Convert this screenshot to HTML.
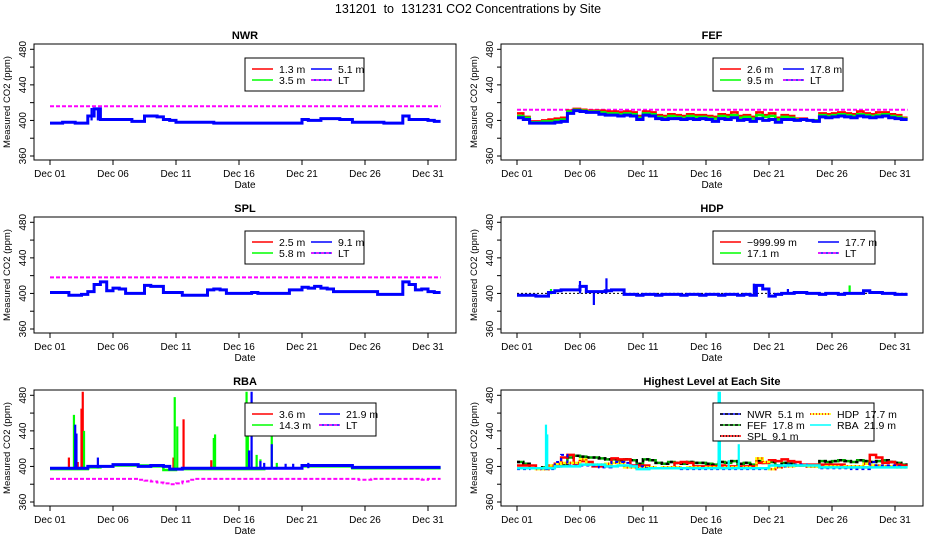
<!DOCTYPE html>
<html><head><meta charset="utf-8"><style>
html,body{margin:0;padding:0;background:#fff;}
svg{display:block;font-family:"Liberation Sans",Arial,sans-serif;}
text{white-space:pre;}
</style></head><body>
<svg id="chart" width="936" height="540" viewBox="0 0 936 540">
<text x="468" y="13" text-anchor="middle" font-size="12.5">131201  to  131231 CO2 Concentrations by Site</text>
</svg>
<script>
// ---- data (ppm), arrays sampled every 0.5 day unless noted ----
const dayLabels = ["Dec 01","Dec 06","Dec 11","Dec 16","Dec 21","Dec 26","Dec 31"];
const yTicks = [360,380,400,420,440,460,480];
const yLabels = [360,400,440,480];

const nwr51 = [397,397,398,398,397,397,405,413,401,401,401,401,401,399,399,405,405,404,401,400,398,398,398,398,398,398,397,397,397,397,397,397,397,397,397,397,397,397,397,397,401,400,400,402,402,402,401,401,398,398,398,398,398,397,397,397,405,401,401,401,400,399];
const nwrSpikeDays = [3.3,3.8];
const nwrSpikeVals = [414,414];
const nwrLT = 416;

const fef178 = [403,401,397,397,397,397,398,399,408,411,410,409,409,407,406,406,405,406,405,401,406,405,402,401,402,402,401,402,401,402,401,399,402,401,403,400,401,399,402,400,401,398,401,401,400,401,400,399,404,403,404,405,404,403,405,404,403,404,405,403,402,401];
const fef95 = [405,403,398,398,399,399,400,401,410,412,411,410,410,409,408,408,407,408,407,403,408,407,404,403,405,404,403,405,404,404,403,402,405,404,406,403,404,402,406,404,405,401,404,403,401,401,400,400,406,405,406,407,406,405,407,406,405,406,407,405,404,402];
const fef26 = [408,404,399,399,400,401,402,403,411,413,412,411,411,411,410,410,409,410,409,405,410,409,406,405,407,406,405,407,406,406,405,404,407,406,409,405,406,404,409,406,408,403,406,405,402,402,400,400,408,407,408,409,408,407,410,408,407,409,409,407,406,403];
const fefLT = 412;

const spl91 = [401,401,401,398,398,399,402,410,413,403,406,405,400,400,400,409,408,408,401,401,401,398,398,398,398,404,405,404,400,400,400,400,401,400,400,400,400,400,404,404,407,406,408,406,405,402,402,402,402,402,402,402,399,399,399,399,413,410,404,405,402,401];
const splLT = 418;

const hdp177 = [398,398,398,397,397,401,403,404,404,404,408,402,402,402,403,404,404,399,399,398,399,399,398,399,399,399,398,399,399,398,399,399,398,399,399,398,399,398,409,405,397,399,400,400,401,401,400,400,399,400,400,399,400,400,400,403,401,401,400,400,399,399];
const hdpLT = 400;
const hdpSpikeDays = [5.0,6.1,7.1,18.8,21.5];
const hdpSpikeVals = [414,387,417,411,405];
const hdpGreenSpikeDays = [2.7,26.4];
const hdpGreenSpikeVals = [405,409];

const rba219 = [398,398,398,398,398,398,400,400,400,400,402,402,402,402,400,400,401,401,400,397,397,398,398,398,398,398,398,398,398,398,398,398,398,398,398,398,398,398,398,398,401,401,401,401,401,401,401,401,399,399,399,399,399,399,399,399,399,399,399,399,399,399];
const rba143Daily = [397,397,397,399,400,401,401,401,400,396,397,397,397,397,397,397,397,398,398,398,400,400,400,400,398,398,398,398,398,398,398];
const rbaLT = [386,386,386,386,386,386,386,386,386,386,386,386,386,386,385,384,383,382,381,380,381,383,385,386,386,386,386,386,386,386,386,386,386,386,386,386,386,386,386,386,386,386,386,386,386,386,386,386,386,385,385,386,386,386,386,386,386,386,386,385,386,386];
const rbaRedSpikeDays = [1.5,2.2,2.5,2.6,9.8,10.6,12.8];
const rbaRedSpikeVals = [410,405,465,484,410,453,407];
const rbaGreenSpikeDays = [1.9,2.7,9.9,10.1,13.0,13.1,15.6,15.7,16.4,16.7,17.6,18.0];
const rbaGreenSpikeVals = [458,440,478,445,432,436,484,438,413,408,438,404];
const rbaBlueSpikeDays = [2.0,2.1,3.8,15.8,16.0,16.7,17.0,17.6,18.7,19.3,20.5];
const rbaBlueSpikeVals = [447,437,410,418,484,406,404,425,403,403,404];
const topCyanSpikeDays = [2.3,2.4,16.0,16.1,16.8,17.6];
const topCyanSpikeVals = [447,436,484,484,407,425];

// ---- drawing ----
const NS = "http://www.w3.org/2000/svg";
const svg = document.getElementById("chart");
function mk(tag, attrs, parent) {
  const e = document.createElementNS(NS, tag);
  for (const k in attrs) e.setAttribute(k, attrs[k]);
  (parent || svg).appendChild(e);
  return e;
}
let clipId = 0;
function panel(name, bx, by, title) {
  const g = mk("g", {});
  
  
  const W = 422, H = 116;
  const x = d => bx + 16 + d * 12.6;
  const y = v => by + 5.3 + (480 - v) * 106.7 / 120;
  clipId++;
  const cp = mk("clipPath", {id: "c" + clipId}, g);
  mk("rect", {x: bx, y: by, width: W, height: H}, cp);
  const plot = mk("g", {"clip-path": "url(#c" + clipId + ")"}, g);
  
  
  const t = mk("text", {x: bx + W / 2, y: by - 5, "text-anchor": "middle", "font-size": "11", "font-weight": "bold"}, g);
  t.textContent = title;
  
  
  const box = mk("rect", {x: bx, y: by, width: W, height: H, fill: "none", stroke: "#000", "stroke-width": 1}, g);
  
  
  yTicks.forEach(v => mk("line", {x1: bx - 4, x2: bx, y1: y(v), y2: y(v), stroke: "#000"}, g));
  mk("line", {x1: bx, x2: bx, y1: y(360), y2: y(480), stroke: "#000"}, g);
  yLabels.forEach(v => {
    const tx = mk("text", {x: 0, y: 0, "font-size": "10", "text-anchor": "middle", transform: `translate(${bx - 8},${y(v)}) rotate(-90)`}, g);
    tx.textContent = v;
    
    
  });
  const yt = mk("text", {"font-size": "9.5", "text-anchor": "middle", transform: `translate(${bx - 24},${by + H / 2}) rotate(-90)`}, g);
  yt.textContent = "Measured CO2 (ppm)";
  
  
  mk("line", {x1: x(0), x2: x(30), y1: by + H, y2: by + H, stroke: "#000"}, g);
  dayLabels.forEach((lab, i) => {
    mk("line", {x1: x(i * 5), x2: x(i * 5), y1: by + H, y2: by + H + 5, stroke: "#000"}, g);
    const tx = mk("text", {x: x(i * 5), y: by + H + 17, "font-size": "10", "text-anchor": "middle"}, g);
    tx.textContent = lab;
    
    
  });
  const xt = mk("text", {x: bx + W / 2, y: by + H + 28, "font-size": "10", "text-anchor": "middle"}, g);
  xt.textContent = "Date";
  
  
  return {g, plot, x, y};
}
function line(p, vals, step, color, width, dash, nm) {
  let pts = [];
  vals.forEach((v, i) => { pts.push(p.x(i * step) + "," + p.y(v)); pts.push(p.x((i + 1) * step) + "," + p.y(v)); });
  const a = {points: pts.join(" "), fill: "none", stroke: color, "stroke-width": width};
  if (dash) a["stroke-dasharray"] = dash;
  const e = mk("polyline", a, p.plot);
  
  
  return e;
}
function flat(p, v, color, dash, nm, width) {
  const e = mk("line", {x1: p.x(0), x2: p.x(31), y1: p.y(v), y2: p.y(v), stroke: color, "stroke-width": width || 2, "stroke-dasharray": dash || ""}, p.plot);
  
  
}
function spikes(p, days, vals, base, color, nm) {
  days.forEach((d, i) => {
    const e = mk("line", {x1: p.x(d), x2: p.x(d), y1: p.y(base), y2: p.y(vals[i]), stroke: color, "stroke-width": 2.2}, p.plot);
    
    
  });
}
function legend(p, name, lx, ly, w, h, entries, colX) {
  const g = mk("g", {}, p.g);
  
  
  mk("rect", {x: lx, y: ly, width: w, height: h, fill: "#fff", stroke: "#000"}, g);
  entries.forEach((en, i) => {
    const col = Math.floor(i / en.rows), row = i % en.rows;
    const ex = lx + 7 + col * colX, ey = ly + 11 + row * 11;
    mk("line", {x1: ex, x2: ex + 21, y1: ey, y2: ey, stroke: en.c, "stroke-width": 1.6}, g);
    if (en.c2) mk("line", {x1: ex, x2: ex + 21, y1: ey, y2: ey, stroke: en.c2, "stroke-width": 1.6, "stroke-dasharray": en.d || "3,2"}, g);
    const t = mk("text", {x: ex + 27, y: ey + 4, "font-size": "10.5"}, g);
    t.textContent = en.t;
    
    
  });
}
const L = 34, R = 501, T1 = 44, T2 = 217, T3 = 390;
const MAG = "#ff00ff";

// NWR
let p = panel("nwr", L, T1, "NWR");
flat(p, nwrLT, MAG, "4,2", "nwr-lt-line");
line(p, nwr51, 0.5, "#0000ff", 3, null, "nwr-5-1m-series");
spikes(p, nwrSpikeDays, nwrSpikeVals, 400, "#0000ff", "nwr-spike");
legend(p, "nwr", 245, 58, 119, 33, [{t:"1.3 m",c:"red",rows:2},{t:"3.5 m",c:"#00ff00",rows:2},{t:"5.1 m",c:"blue",rows:2},{t:"LT",c:"blue",c2:MAG,rows:2}], 59);

// FEF
p = panel("fef", R, T1, "FEF");
flat(p, fefLT, MAG, "4,2", "fef-lt-line");
line(p, fef26, 0.5, "red", 2.5, null, "fef-2-6m-series");
line(p, fef95, 0.5, "#00ff00", 2.5, null, "fef-9-5m-series");
line(p, fef178, 0.5, "#0000ff", 3, null, "fef-17-8m-series");
legend(p, "fef", 713, 58, 130, 33, [{t:"2.6 m",c:"red",rows:2},{t:"9.5 m",c:"#00ff00",rows:2},{t:"17.8 m",c:"blue",rows:2},{t:"LT",c:"blue",c2:MAG,rows:2}], 63);

// SPL
p = panel("spl", L, T2, "SPL");
flat(p, splLT, MAG, "4,2", "spl-lt-line");
line(p, spl91, 0.5, "#0000ff", 3, null, "spl-9-1m-series");
legend(p, "spl", 245, 231, 119, 33, [{t:"2.5 m",c:"red",rows:2},{t:"5.8 m",c:"#00ff00",rows:2},{t:"9.1 m",c:"blue",rows:2},{t:"LT",c:"blue",c2:MAG,rows:2}], 59);

// HDP
p = panel("hdp", R, T2, "HDP");
flat(p, hdpLT, "#000", "2,2", "hdp-lt-line", 1);
spikes(p, hdpGreenSpikeDays, hdpGreenSpikeVals, 399, "#00ff00", "hdp-green-spike");
line(p, hdp177, 0.5, "#0000ff", 3, null, "hdp-17-7m-series");
spikes(p, hdpSpikeDays, hdpSpikeVals, 400, "#0000ff", "hdp-blue-spike");
legend(p, "hdp", 713, 231, 162, 33, [{t:"\u2212999.99 m",c:"red",rows:2},{t:"17.1 m",c:"#00ff00",rows:2},{t:"17.7 m",c:"blue",rows:2},{t:"LT",c:"blue",c2:MAG,rows:2}], 98);

// RBA
p = panel("rba", L, T3, "RBA");
line(p, rbaLT, 0.5, MAG, 2, "4,2", "rba-lt-line");
line(p, rba143Daily, 1, "#00ff00", 2.5, null, "rba-14-3m-series");
spikes(p, rbaRedSpikeDays, rbaRedSpikeVals, 398, "red", "rba-red-spike");
spikes(p, rbaGreenSpikeDays, rbaGreenSpikeVals, 398, "#00ff00", "rba-green-spike");
line(p, rba219, 0.5, "#0000ff", 3, null, "rba-21-9m-series");
spikes(p, rbaBlueSpikeDays, rbaBlueSpikeVals, 398, "#0000ff", "rba-blue-spike");
legend(p, "rba", 245, 403, 131, 33, [{t:"3.6 m",c:"red",rows:2},{t:"14.3 m",c:"#00ff00",rows:2},{t:"21.9 m",c:"blue",rows:2},{t:"LT",c:"blue",c2:MAG,rows:2}], 67);

// Highest
p = panel("highest", R, T3, "Highest Level at Each Site");
line(p, fef95, 0.5, "#00aa00", 2.5, null, "top-fef-series");
line(p, fef95, 0.5, "#000", 2.5, "3,3", "top-fef-dash");
line(p, spl91, 0.5, "red", 2.5, null, "top-spl-series");
line(p, hdp177, 0.5, "#ffff00", 2.5, null, "top-hdp-series");
line(p, hdp177, 0.5, "red", 2.5, "1,3", "top-hdp-dots");
line(p, nwr51, 0.5, "#0000ff", 2, "3,3", "top-nwr-series");
line(p, rba219, 0.5, "#00ffff", 2.5, null, "top-rba-series");
spikes(p, topCyanSpikeDays, topCyanSpikeVals, 398, "#00ffff", "top-rba-spike");
legend(p, "highest", 713, 403, 161, 38, [{t:"NWR  5.1 m",c:"blue",c2:"#000",rows:3},{t:"FEF  17.8 m",c:"#00aa00",c2:"#000",rows:3},{t:"SPL  9.1 m",c:"red",c2:"#000",d:"1,2",rows:3},{t:"HDP  17.7 m",c:"yellow",c2:"red",d:"1,2",rows:3},{t:"RBA  21.9 m",c:"cyan",rows:3}], 90);
</script>
</body></html>
